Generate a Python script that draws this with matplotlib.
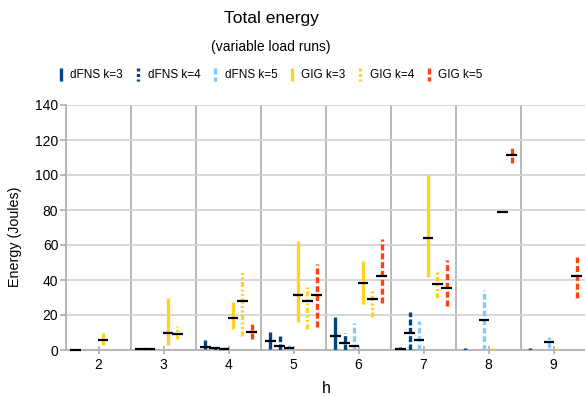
import numpy as np
import matplotlib
matplotlib.use('Agg')
import matplotlib.pyplot as plt
from matplotlib.lines import Line2D

plt.rcParams['font.family'] = ['Liberation Sans', 'DejaVu Sans']

nan = np.nan
h_labels = ['2', '3', '4', '5', '6', '7', '8', '9']
series_names = ['dFNS k=3', 'dFNS k=4', 'dFNS k=5', 'GIG k=3', 'GIG k=4', 'GIG k=5']

dfns3_min = [0.0, 0.0, 0.4, 0.4, 0.0, 0.0, 0.0, 0.0]
dfns3_max = [0.5, 1.0, 5.7, 10.1, 18.7, 1.5, 1.0, 1.0]
dfns3_med = [0.2, 0.6, 1.5, 5.3, 8.2, 0.8, nan, nan]

dfns4_min = [nan, 0.0, 0.0, 0.0, 0.0, 0.0, nan, nan]
dfns4_max = [nan, 1.0, 2.0, 8.2, 9.7, 21.7, nan, nan]
dfns4_med = [nan, 0.6, 1.0, 2.5, 4.2, 9.9, nan, nan]

dfns5_min = [nan, nan, 0.0, 0.0, 0.0, 0.0, 0.0, 1.3]
dfns5_max = [nan, nan, 1.5, 2.9, 15.2, 16.6, 34.3, 7.4]
dfns5_med = [nan, nan, 0.8, 1.3, 2.5, 5.9, 17.3, 4.6]

gig3_min = [2.9, 2.9, 12.0, 15.8, 26.1, 41.9, 0.0, 0.0]
gig3_max = [9.5, 29.5, 27.6, 62.5, 51.0, 99.8, 1.0, 1.0]
gig3_med = [5.9, 9.9, 18.5, 31.6, 38.5, 64.0, nan, nan]

gig4_min = [nan, 6.5, 8.2, 11.8, 19.0, 29.9, 79.0, nan]
gig4_max = [nan, 13.7, 45.1, 36.0, 34.1, 45.1, 79.0, nan]
gig4_med = [nan, 9.1, 28.2, 28.2, 29.1, 37.9, 79.0, nan]

gig5_min = [nan, nan, 6.5, 13.3, 27.0, 25.1, 107.0, 29.7]
gig5_max = [nan, nan, 14.9, 49.1, 63.4, 51.4, 115.4, 53.1]
gig5_med = [nan, nan, 10.3, 31.6, 42.5, 35.6, 111.4, 42.3]

mins = [dfns3_min, dfns4_min, dfns5_min, gig3_min, gig4_min, gig5_min]
maxs = [dfns3_max, dfns4_max, dfns5_max, gig3_max, gig4_max, gig5_max]
meds = [dfns3_med, dfns4_med, dfns5_med, gig3_med, gig4_med, gig5_med]

colors = ['#004586', '#004586', '#83caff', '#ffd320', '#ffd320', '#ff420e']
dashes = [None, (1.8, 0.7), (1.7, 0.85), None,
          (1.5, 0.75, 0.6, 0.75, 0.6, 0.75), (1.8, 0.85)]
LW = 2.4

W, H = 585, 396
fig = plt.figure(figsize=(W / 100, H / 100), dpi=100)
ax = fig.add_axes([66 / W, 1 - 350 / H, 520 / W, 245 / H])

n = len(h_labels)
x = np.arange(n)
grey = '#b3b3b3'

for j in range(6):
    pos = x + (j - 2.5) / 7.0
    for i in range(n):
        lo, hi, md = mins[j][i], maxs[j][i], meds[j][i]
        if not np.isnan(lo):
            ln, = ax.plot([pos[i], pos[i]], [lo, hi], color=colors[j], lw=LW,
                          solid_capstyle='butt', dash_capstyle='butt', zorder=3)
            if dashes[j] is not None:
                ln.set_dashes(dashes[j])
        if not np.isnan(md):
            ax.plot([pos[i] - 0.082, pos[i] + 0.082], [md, md], color='black',
                    lw=1.6, solid_capstyle='butt', zorder=4, clip_on=False)

ax.set_xlim(-0.5, n - 0.5)
ax.set_ylim(0, 140)
ax.set_yticks(np.arange(0, 141, 20))
ax.set_xticks(x)
ax.set_xticklabels(h_labels)
ax.set_xticks(np.arange(-0.5, n, 1.0), minor=True)
ax.yaxis.grid(True, color='#d4d4d4', lw=1.3, zorder=0)
ax.xaxis.grid(True, which='minor', color=grey, lw=1.3, zorder=0)
ax.set_axisbelow(True)
for s in ['top', 'right']:
    ax.spines[s].set_visible(False)
for s in ['left', 'bottom']:
    ax.spines[s].set_color(grey)
    ax.spines[s].set_linewidth(1.3)
ax.tick_params(axis='x', which='major', direction='inout', length=6, width=1.3,
               color=grey, labelsize=10, pad=3)
ax.tick_params(axis='x', which='minor', length=0)
ax.tick_params(axis='y', direction='out', length=4, width=1.3, color=grey,
               labelsize=10, pad=1.5)

ax.set_xlabel('h', fontsize=11.5, labelpad=6)
fig.text(15 / W, 1 - 237 / H, 'Energy (Joules)', rotation=90, fontsize=10.3,
         ha='center', va='center')

fig.text(271 / W, 1 - 18 / H, 'Total energy', fontsize=12.5, ha='center', va='center')
fig.text(271 / W, 1 - 47 / H, '(variable load runs)', fontsize=10, ha='center', va='center')

# legend
leg_x = [61, 138, 215, 292, 360, 429]
for j in range(6):
    xf = leg_x[j] / W
    ln = Line2D([xf, xf], [1 - 67.5 / H, 1 - 80.5 / H], transform=fig.transFigure,
                color=colors[j], lw=LW, solid_capstyle='butt', dash_capstyle='butt')
    if dashes[j] is not None:
        ln.set_dashes((0.9, 0.75) if j in (1, 4) else (1.8, 0.85))
    fig.add_artist(ln)
    fig.text((leg_x[j] + 9.5) / W, 1 - 74.5 / H, series_names[j], fontsize=8.5,
             ha='left', va='center')

fig.savefig('out.png', dpi=100)
